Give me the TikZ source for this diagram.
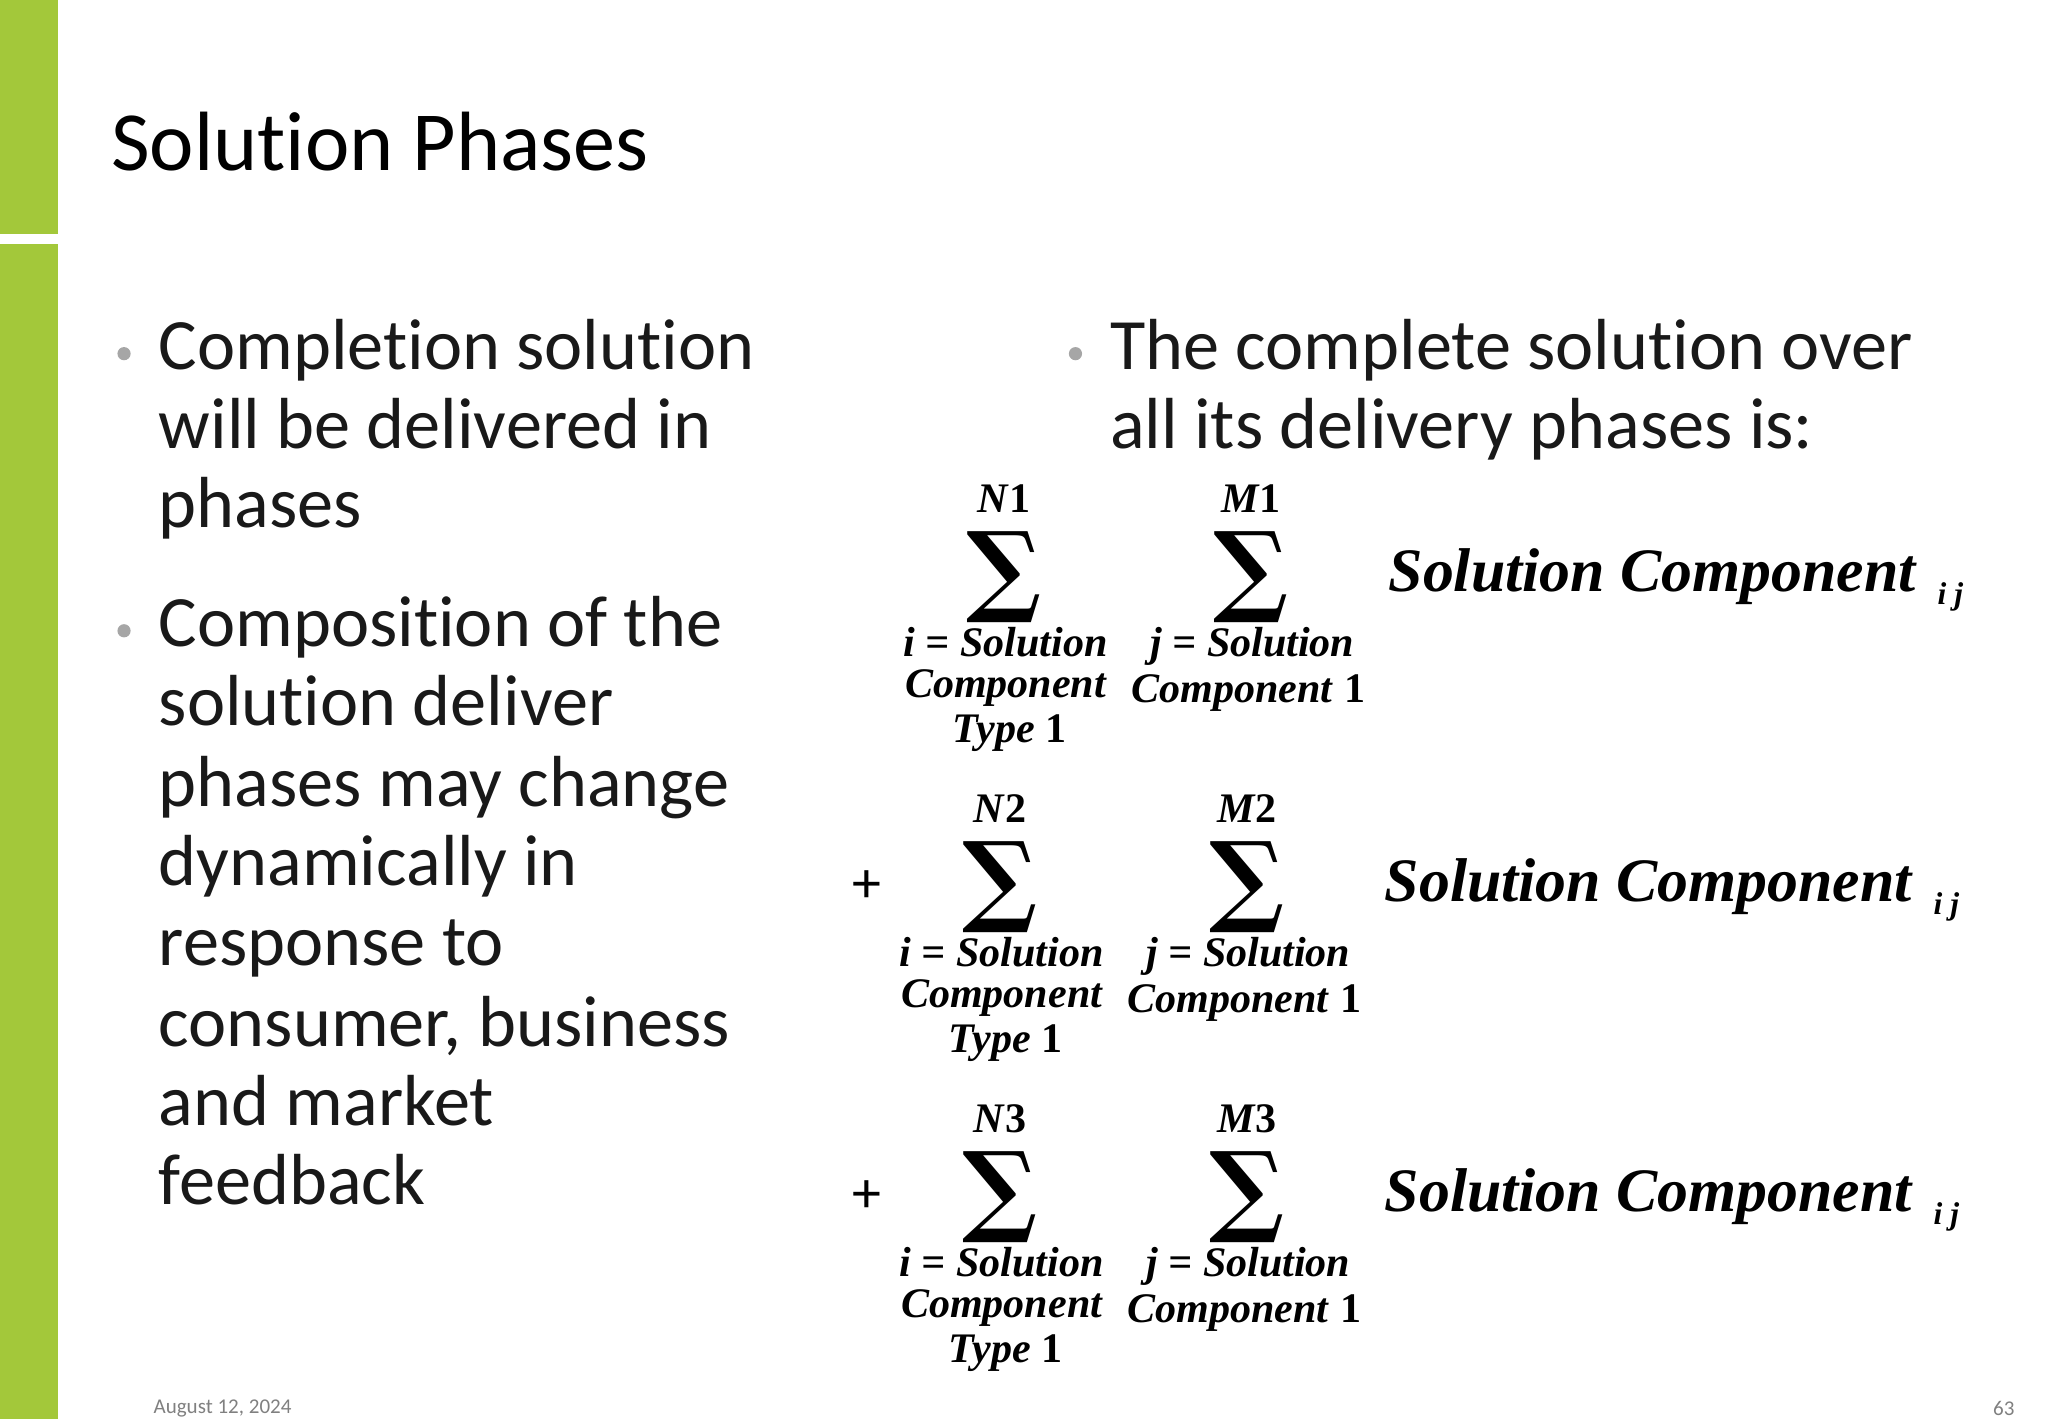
\documentclass[tikz,border=0pt]{standalone}
\usepackage{fontspec}
\setmainfont[Ligatures=NoCommon]{Carlito}
\newfontfamily\mfont{Liberation Serif}
\newfontfamily\sgfont{DejaVu Serif}
\begin{document}
\begin{tikzpicture}[x=0.5bp,y=-0.5bp,
  body/.style={anchor=west,inner sep=0,font=\fontsize{27.5}{30}\selectfont,align=left,text=black!90,text height=20bp,text depth=6bp},
  dot/.style={circle,fill=black!35,inner sep=0,minimum size=5bp},
  lab/.style={inner sep=0,font=\mfont\bfseries\itshape\fontsize{16}{17}\selectfont,text height=11bp,text depth=3.5bp},
  sub/.style={inner sep=0,font=\mfont\bfseries\itshape\fontsize{12}{12}\selectfont},
  big/.style={inner sep=0,font=\mfont\bfseries\itshape\fontsize{23.5}{24}\selectfont,anchor=west},
  sig/.style={inner sep=0,font=\sgfont\bfseries\fontsize{38}{38}\selectfont}]
\useasboundingbox (0,0) rectangle (1552,1075);
\fill[fill={rgb,255:red,163;green,200;blue,58}] (0,0) rectangle (44,177);
\fill[fill={rgb,255:red,163;green,200;blue,58}] (0,185) rectangle (44,1075);
\node[anchor=west,inner sep=0,font=\fontsize{32}{34}\selectfont] (title) at (84,107) {Solution Phases};
\node[dot] (d1) at (94,268) {};
\node[body] (t1) at (120,266) {Completion solution};
\node[body] (t2) at (120,326) {will be delivered in};
\node[body] (t3) at (120,386) {phases};
\node[dot] (d2) at (94,478) {};
\node[body] (t4) at (120,476) {Composition of the};
\node[body] (t5) at (120,536) {solution deliver};
\node[body] (t6) at (120,597) {phases may change};
\node[body] (t7) at (120,657) {dynamically in};
\node[body] (t8) at (120,718) {response to};
\node[body] (t9) at (120,779) {consumer, business};
\node[body] (t10) at (120,839) {and market};
\node[body] (t11) at (120,899) {feedback};
\node[dot] (d3) at (815,268) {};
\node[body] (r1) at (841,266) {The complete solution over};
\node[body] (r2) at (841,326) {all its delivery phases is:};
\node[sig] (sa1) at (761,437) {∑};
\node[sig] (sb1) at (948,437) {∑};
\node[lab] (n1) at (761,381) {N\textup{1}};
\node[lab] (m1) at (948,381) {M\textup{1}};
\node[lab] (ia1) at (762,490) {i = Solution};
\node[lab] (ib1) at (762,521) {Component};
\node[lab] (ic1) at (765,555) {Type \textup{1}};
\node[lab] (ja1) at (949,490) {j = Solution};
\node[lab] (jb1) at (946,525) {Component \textup{1}};
\node[big] (sc1) at (1052,437) {Solution Component};
\node[sub] (ij1) at (1478,452) {i j};
\node[sig] (sa2) at (758,672) {∑};
\node[sig] (sb2) at (945,672) {∑};
\node[lab] (n2) at (758,616) {N\textup{2}};
\node[lab] (m2) at (945,616) {M\textup{2}};
\node[lab] (ia2) at (759,725) {i = Solution};
\node[lab] (ib2) at (759,756) {Component};
\node[lab] (ic2) at (762,790) {Type \textup{1}};
\node[lab] (ja2) at (946,725) {j = Solution};
\node[lab] (jb2) at (943,760) {Component \textup{1}};
\node[big] (sc2) at (1049,672) {Solution Component};
\node[sub] (ij2) at (1475,687) {i j};
\node[sig] (sa3) at (758,907) {∑};
\node[sig] (sb3) at (945,907) {∑};
\node[lab] (n3) at (758,851) {N\textup{3}};
\node[lab] (m3) at (945,851) {M\textup{3}};
\node[lab] (ia3) at (759,960) {i = Solution};
\node[lab] (ib3) at (759,991) {Component};
\node[lab] (ic3) at (762,1025) {Type \textup{1}};
\node[lab] (ja3) at (946,960) {j = Solution};
\node[lab] (jb3) at (943,995) {Component \textup{1}};
\node[big] (sc3) at (1049,907) {Solution Component};
\node[sub] (ij3) at (1475,922) {i j};
\node[inner sep=0,font=\fontsize{22}{22}\selectfont] (p2) at (657,672) {+};
\node[inner sep=0,font=\fontsize{22}{22}\selectfont] (p3) at (657,907) {+};
\node[anchor=west,inner sep=0,font=\fontsize{8}{9}\selectfont,text=black!50] (date) at (116,1067) {August 12, 2024};
\node[anchor=east,inner sep=0,font=\fontsize{8}{9}\selectfont,text=black!50] (pg) at (1527,1067) {63};
\end{tikzpicture}
\end{document}
